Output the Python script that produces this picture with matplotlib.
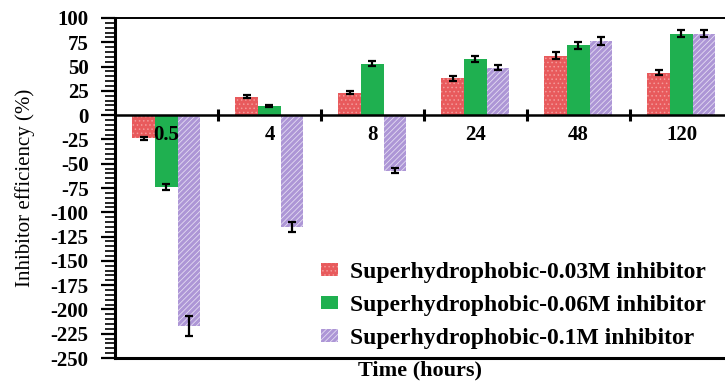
import numpy as np
import matplotlib.pyplot as plt
from matplotlib.ticker import MultipleLocator, FixedLocator

plt.rcParams['font.family'] = 'Liberation Serif'
plt.rcParams['axes.unicode_minus'] = False
plt.rcParams['hatch.linewidth'] = 0.6

times = ["0.5", "4", "8", "24", "48", "120"]
labels = ["Superhydrophobic-0.03M inhibitor",
          "Superhydrophobic-0.06M inhibitor",
          "Superhydrophobic-0.1M inhibitor"]

eff_003 = [-24, 19, 23, 38, 61, 43.5]
eff_006 = [-74, 9, 53, 58, 72, 84]
eff_01 = [-217, -115, -57, 49, 76, 84]

err_003 = [2, 1.5, 1.5, 2.5, 3.5, 2.5]
err_006 = [3.5, 1, 2.5, 3, 3.5, 4]
err_01 = [10, 5, 3, 2.5, 4, 4]

colors = ["#e85a5c", "#1fb050", "#ad96d6"]
hatch_colors = ["#f39a9a", "#3fc26c", "#e4dcf2"]
hatches = ["....", "", "//////"]

fig = plt.figure(figsize=(7.25, 3.82), dpi=100)
ax = fig.add_axes([0.1586, 0.0628, 0.8524, 0.8901])

x = np.arange(len(times))
w = 0.22
series = [(eff_003, err_003), (eff_006, err_006), (eff_01, err_01)]
for i, (vals, errs) in enumerate(series):
    pos = x + (i - 1) * w
    ax.bar(pos, vals, w, color=colors[i], hatch=hatches[i],
           edgecolor=hatch_colors[i], linewidth=0, label=labels[i], zorder=2)
    ax.errorbar(pos, vals, yerr=errs, fmt='none', ecolor='black',
                elinewidth=1.6, capsize=3, capthick=1.6, zorder=3)

ax.set_xlim(-0.5, len(times) - 0.5)
ax.set_ylim(-250, 100)

# x axis sits on the zero line, group separators as ticks
ax.spines['bottom'].set_position(('data', 0))
ax.spines['bottom'].set_linewidth(1.8)
ax.spines['bottom'].set_zorder(4)
ax.spines['right'].set_visible(False)
ax.spines['top'].set_linewidth(1.4)
ax.spines['left'].set_linewidth(2.2)
ax.axhline(-250, color='black', lw=2.2, clip_on=False, zorder=4)

ax.xaxis.set_major_locator(FixedLocator(x[:-1] + 0.5))
ax.xaxis.set_major_formatter(plt.NullFormatter())
ax.tick_params(axis='x', which='major', direction='inout', length=9, width=2.2)

# group labels just under the zero line, drawn over the bars
for xi, t in zip(x, times):
    ax.text(xi, -20, t, ha='center', va='center', fontsize=15,
            fontweight='bold', zorder=6)

ax.yaxis.set_major_locator(MultipleLocator(25))
ax.yaxis.set_minor_locator(MultipleLocator(5))
ax.tick_params(axis='y', which='major', direction='out', length=10, width=1.6,
               labelsize=15, pad=9)
ax.tick_params(axis='y', which='minor', direction='out', length=7, width=1.2)
for t in ax.get_yticklabels():
    t.set_fontweight('bold')

ax.set_ylabel("Inhibitor efficiency (%)", fontsize=15, labelpad=11)
fig.text(0.58, 0.004, "Time (hours)", ha='center', va='bottom',
         fontsize=16, fontweight='bold')

ax.legend(loc='lower right', bbox_to_anchor=(0.99, -0.035), frameon=False,
          prop={'weight': 'bold', 'size': 17}, handlelength=0.7,
          handleheight=0.5, handletextpad=0.5, labelspacing=0.5)

fig.savefig("out.png", dpi=100)
